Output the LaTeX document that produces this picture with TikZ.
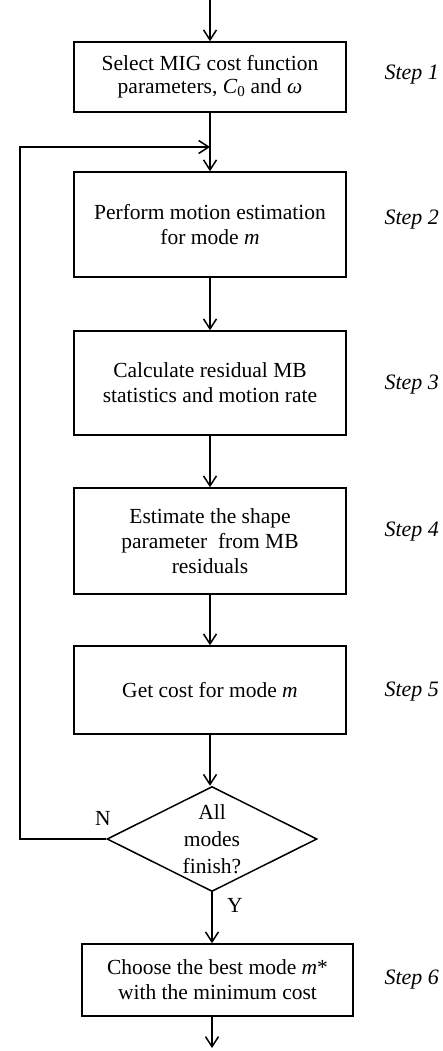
\documentclass[tikz,border=0pt]{standalone}
\usepackage{fontspec}
\setmainfont{Liberation Serif}
\usetikzlibrary{shapes.geometric,arrows.meta}

\begin{document}
\begin{tikzpicture}[x=1pt,y=-1pt,
    every node/.style={font=\fontsize{21.5}{25}\selectfont},
    stepbox/.style={draw, line width=1.5pt, rectangle, minimum width=272pt, align=center, inner sep=0pt},
    flow/.style={line width=1.5pt, -{Straight Barb[length=10pt,width=13pt]}},
    steplabel/.style={anchor=west, font=\fontsize{22}{25}\selectfont\itshape}]
    \useasboundingbox (0,0) rectangle (443,1051);

    \node[stepbox, minimum height=70pt] (select) at (210,77) {Select MIG cost function\\[-2pt]parameters, \textit{C}\textsubscript{0} and \textit{ω}};
    \node[stepbox, minimum height=105pt] (perform) at (210,224.5) {Perform motion estimation\\for mode \textit{m}};
    \node[stepbox, minimum height=104pt] (calc) at (210,383) {Calculate residual MB\\statistics and motion rate};
    \node[stepbox, minimum height=106pt] (shape) at (210,541) {Estimate the shape\\parameter\ \ from MB\\residuals};
    \node[stepbox, minimum height=88pt] (cost) at (210,690) {Get cost for mode \textit{m}};
    \node[diamond, aspect=2, draw, line width=1.5pt, minimum width=210pt, minimum height=105pt, inner sep=0pt] (dec) at (212,839) {};
    \node[align=center, font=\fontsize{21.5}{27}\selectfont] (dectext) at (dec) {All\\modes\\finish?};
    \node[stepbox, minimum width=271pt, minimum height=72pt] (choose) at (217.5,980) {Choose the best mode \textit{m}*\\with the minimum cost};

    \node (no) at (103,818) {N};
    \node (yes) at (235,905) {Y};

    \foreach \y/\n in {75/1,220/2,385/3,532/4,692/5,980/6}
        \node[steplabel] (step\n) at (381,\y) {Step \n};

    \coordinate (top) at (210,0);
    \coordinate (join) at (210,147);
    \coordinate (back) at (20,839);
    \coordinate (bottom) at (212,1048);

    \draw[flow] (top) -- (select.north);
    \draw[flow] (select) -- (perform);
    \draw[flow] (perform) -- (calc);
    \draw[flow] (calc) -- (shape);
    \draw[flow] (shape) -- (cost);
    \draw[flow] (cost.south) -- (cost.south |- dec.north);
    \draw[flow] (dec.south) -- (dec.south |- choose.north);
    \draw[flow] (choose.south -| dec.south) -- (bottom);
    \draw[flow] (dec.west) -- (back) |- (join);

  \end{tikzpicture}
\end{document}
